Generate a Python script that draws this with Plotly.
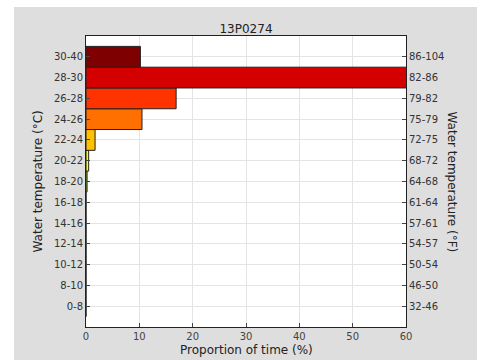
import plotly.graph_objects as go

categories_c = ["0-8", "8-10", "10-12", "12-14", "14-16", "16-18", "18-20",
                "20-22", "22-24", "24-26", "26-28", "28-30", "30-40"]
categories_f = ["32-46", "46-50", "50-54", "54-57", "57-61", "61-64", "64-68",
                "68-72", "72-75", "75-79", "79-82", "82-86", "86-104"]
proportions = [0, 0, 0, 0, 0, 0, 0.2, 0.5, 1.7, 10.5, 16.9, 61.0, 10.2]
colors = ["#0000a0", "#0040ff", "#0090ff", "#00d0ff", "#40ffc0", "#90ff60", "#c0ff00",
          "#ffff00", "#ffc000", "#ff7000", "#ff3300", "#d40000", "#7f0000"]
x_ticks = [0, 10, 20, 30, 40, 50, 60]

idx = list(range(len(categories_c)))

fig = go.Figure()
fig.add_trace(go.Bar(
    x=proportions, y=idx, orientation="h", width=1.0,
    marker=dict(color=colors, line=dict(color="#222222", width=1)),
    showlegend=False, hoverinfo="skip"))
fig.add_trace(go.Scatter(
    x=[None] * len(idx), y=idx, yaxis="y2", mode="markers",
    showlegend=False, hoverinfo="skip"))

# plot area in pixels: x 86..406, y 36..327
pw, ph = 320.0, 291.0

font = "DejaVu Sans, sans-serif"
fig.update_layout(
    width=480, height=360,
    margin=dict(l=86, r=74, t=36, b=33, autoexpand=False),
    paper_bgcolor="#dedede", plot_bgcolor="white",
    font=dict(family=font, color="#222222", size=10),
    title=dict(text="13P0274", x=0.5, xref="paper", y=1, yref="paper",
               yanchor="bottom", pad=dict(b=3), font=dict(size=12)),
    xaxis=dict(range=[0, 60], tickvals=x_ticks, ticks="inside", ticklen=4,
               showline=True, linecolor="#222222", linewidth=1, mirror=True,
               showgrid=True, gridcolor="#e4e4e4", zeroline=False,
               automargin=False,
               tickfont=dict(size=10, color="#444444")),
    yaxis=dict(range=[-1, 13], tickvals=idx, ticktext=categories_c,
               ticks="inside", ticklen=4, showline=True, linecolor="#222222",
               linewidth=1, showgrid=True, gridcolor="#e4e4e4", zeroline=False,
               automargin=False,
               tickfont=dict(size=10, color="#333333")),
    yaxis2=dict(range=[-1, 13], tickvals=idx, ticktext=categories_f,
                overlaying="y", side="right", ticks="inside", ticklen=4,
                showline=True, linecolor="#222222", linewidth=1, showgrid=False,
                zeroline=False, automargin=False,
                tickfont=dict(size=10, color="#333333")),
    shapes=[
        dict(type="rect", xref="paper", yref="paper", layer="above",
             x0=-0.3, x1=(14 - 86) / pw, y0=-0.2, y1=1.2,
             fillcolor="white", line=dict(width=0)),
        dict(type="rect", xref="paper", yref="paper", layer="above",
             x0=-0.3, x1=1.3, y0=(327 - 7) / ph, y1=1.2,
             fillcolor="white", line=dict(width=0)),
        dict(type="rect", xref="paper", yref="paper", layer="above",
             x0=(477 - 86) / pw, x1=1.3, y0=-0.2, y1=1.2,
             fillcolor="white", line=dict(width=0)),
    ],
    annotations=[
        dict(text="Water temperature (°C)", x=(37 - 86) / pw, y=0.5,
             xref="paper", yref="paper", xanchor="center", yanchor="middle",
             showarrow=False, textangle=-90, font=dict(size=12)),
        dict(text="Water temperature (°F)", x=(452 - 86) / pw, y=0.5,
             xref="paper", yref="paper", xanchor="center", yanchor="middle",
             showarrow=False, textangle=90, font=dict(size=12)),
        dict(text="Proportion of time (%)", x=0.5, y=(327 - 350) / ph,
             xref="paper", yref="paper", xanchor="center", yanchor="middle",
             showarrow=False, font=dict(size=12)),
    ],
)

fig.write_html("out.html", config={"displayModeBar": False},
               post_script="document.body.style.margin='0';document.body.style.overflow='hidden';")
